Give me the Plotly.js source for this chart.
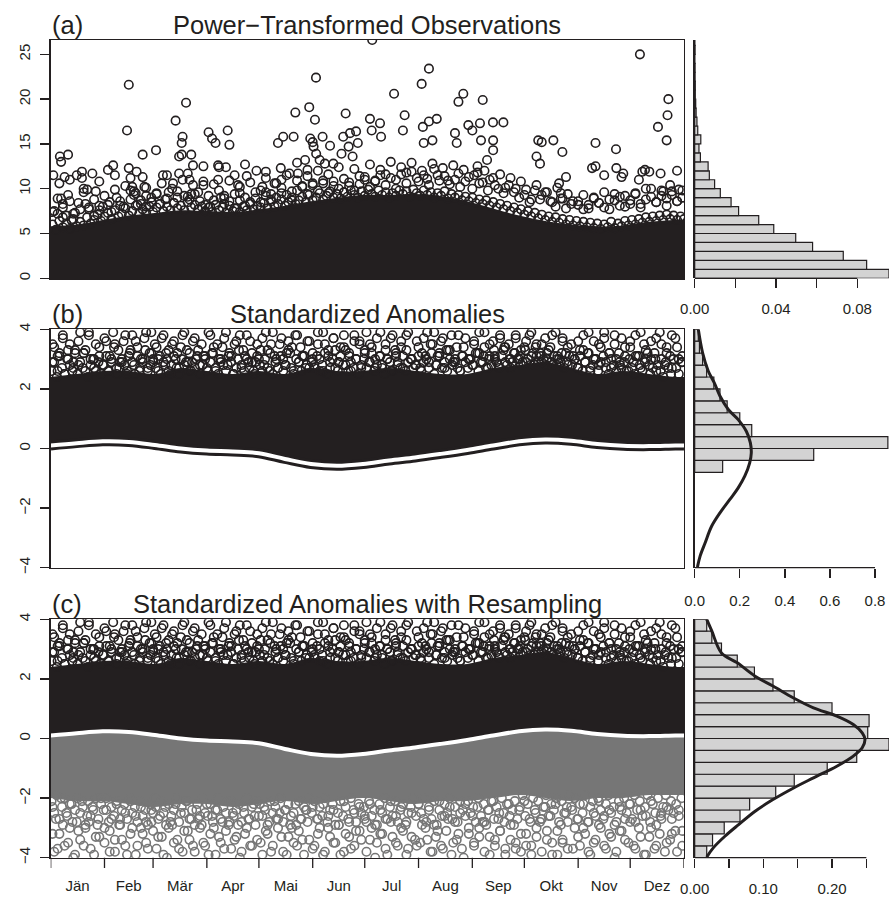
<!DOCTYPE html>
<html>
<head>
<meta charset="utf-8">
<script src="https://cdn.plot.ly/plotly-3.0.1.min.js"></script>
<style>html,body{margin:0;padding:0;background:#fff;}#chart{width:889px;height:898px;}</style>
</head>
<body>
<div id="chart"></div>
<script>
// ---------------- data ----------------
const months = ['Jän','Feb','Mär','Apr','Mai','Jun','Jul','Aug','Sep','Okt','Nov','Dez'];
const monthStart = [0,31,59,90,120,151,181,212,243,273,304,334,365];

// day grid used for curves / envelopes
const gridDays = [0,15,30,45,60,75,90,105,120,135,150,165,180,195,210,225,240,255,270,285,300,315,330,345,360,365];
// (a) top of solid black mass
const aEnvelope = [5.8,6.0,6.5,7.0,7.3,7.6,7.5,7.4,7.7,8.1,8.6,9.0,9.3,9.3,9.4,9.2,8.6,7.8,7.0,6.4,6.0,5.8,5.9,6.3,6.5,6.5];
// (b),(c) threshold (white curve)
const threshold = [0.10,0.18,0.24,0.22,0.12,0.00,-0.07,-0.10,-0.16,-0.35,-0.52,-0.58,-0.52,-0.40,-0.30,-0.18,-0.05,0.10,0.24,0.30,0.26,0.15,0.09,0.08,0.10,0.10];
// (b),(c) top of solid black mass
const upperEnvelope = [2.4,2.5,2.6,2.6,2.5,2.7,2.6,2.5,2.6,2.5,2.7,2.6,2.6,2.7,2.6,2.5,2.5,2.7,2.8,2.9,2.7,2.5,2.6,2.5,2.4,2.4];
// (c) bottom of solid grey mass
const lowerEnvelope = [-2.0,-2.1,-2.1,-2.2,-2.3,-2.2,-2.2,-2.3,-2.2,-2.1,-2.2,-2.1,-2.0,-2.1,-2.2,-2.1,-2.1,-2.0,-1.9,-2.0,-2.1,-2.0,-2.0,-1.9,-1.9,-1.9];

// (a) individual observations visible above the solid mass [day, value]
const obsPoints = [
[1.5,11.5],[5.3,13.6],[6,13.0],[10,13.8],[5,10.6],[8,11.3],[11,11],[15,11.5],[18,11.2],[6,8.9],[7,8.3],[11,8.6],[18,11.9],[24,11.7],[28,10.8],[19,10],[21,9.9],[26,9.7],
[33,12.1],[36,12.6],[37,11.5],[44,16.5],[45,21.6],[45,12.3],[46,11.2],[49.5,11.9],[47,10.2],[48,9.7],[53,11.3],[53,13.8],[54,10.2],[55,9.2],[60.7,14.3],[64.7,11.5],[67,11.5],[70.5,10.6],
[72,17.6],[74,11.7],[74,13.6],[75.5,13.8],[75.5,15.1],[76,15.8],[78,19.6],[81,13.8],[79,11.7],[82,12.6],[80,11],[81,9.4],[88,12.5],[88,10.4],[91,16.3],[93,15.6],[95,15.1],[96.5,12.6],
[96.5,11],[97,12.4],[101,12.4],[102,16.5],[103,14.9],[100,9.2],[106,11.5],[108,10.4],[109,9.5],[112,12.7],[113,11.4],[118.6,12],[124,11.9],[122,10.2],[124,9.6],[129,10.6],[131,15.1],
[134,15.8],[132.6,12.3],[133,11],[137.6,11.7],[140,15.8],[141,18.5],[142,12.9],[142.5,11.7],[146.6,13.2],[149,19.1],[149.6,15.6],[152.3,17.7],[152.9,22.4],[148,12.1],[151.5,14.7],
[151,15.2],[153,13.9],[156.7,15.8],[155,13.2],[158,12.8],[161,14.8],[162.9,12.8],[170,18.4],[168.6,15.8],[167.6,13.9],[172.5,16.2],[171.7,14.7],[174,13.6],[176,16.4],[177,15.1],
[185.3,26.6],[184,17.8],[185,16.5],[189.8,17.3],[190.4,15.8],[197.9,20.6],[204,18.2],[203,16.5],[213.8,21.7],[218,23.4],[214.5,16.9],[218,17.5],[222.5,17.8],[220,15.4],[215,15.1],
[235,19.7],[237.8,20.6],[233,16.2],[234,15.1],[240.7,17.1],[243,16.5],[247.4,17.3],[248,15.4],[249,19.9],[254.9,17.4],[260.9,17.4],[255,15.4],[255,14.3],[251.5,13.2],[246,12.5],
[281,15.4],[283,15.2],[289.7,15.4],[294.9,14.1],[282,12.8],[280,13.6],[293,10.6],[297,11.3],[294,9.5],[314,15.1],[314,12.5],[312,12.3],[325.8,14.4],[326,12.3],[330,11.7],[329,11.3],
[319,11.5],[339.6,25],[341,11.9],[342.5,12.1],[339,11],[345,11.9],[350,16.9],[351.5,11.7],[356,20],[355.5,18.2],[355,15.4],[361,12],[362,9.9],[357,10.4],[353,9.7],
[2,7.5],[4,7.2],[7,6.8],[9,7.0],[12,6.5],[14,7.3],[17,7.7],[20,8.3],[22,7.9],[25,7.0],[28,7.6],[30,8.0],
[33,8.2],[35,7.4],[38,9.0],[40,8.6],[42,8.0],[46,9.8],[48,9.3],[50,8.2],[52,8.7],[55,8.0],[58,8.5],
[61,9.5],[63,8.3],[66,8.8],[68,9.6],[71,8.4],[73,9.0],[77,9.2],[80,8.8],[83,9.4],[86,8.6],[89,8.2],
[92,8.0],[94,8.7],[98,9.0],[100,8.3],[103,8.6],[106,7.8],[109,8.7],[112,8.1],[115,8.5],[118,8.9],
[121,8.5],[124,9.2],[127,8.8],[130,9.0],[133,9.5],[136,9.3],[139,8.7],[142,9.8],[145,10.2],[148,9.4],
[151,10.4],[154,9.8],[157,10.6],[160,9.5],[163,10.8],[166,10.0],[169,9.6],[172,10.3],[175,9.8],[178,10.5],
[181,11.0],[184,10.2],[187,10.8],[190,11.5],[193,10.4],[196,11.2],[199,10.0],[202,11.6],[205,10.6],[208,11.9],
[212,10.8],[215,11.5],[218,10.4],[221,12.2],[224,10.9],[227,11.4],[230,10.5],[233,11.0],[236,10.2],[239,10.8],
[243,10.0],[246,11.8],[249,10.7],[252,9.8],[255,11.2],[258,10.0],[261,9.5],[264,10.4],[267,9.6],[270,9.0],
[273,9.3],[276,8.5],[279,9.8],[282,8.8],[285,9.6],[288,8.6],[291,8.0],[294,8.9],[297,7.8],[300,8.3],
[304,8.6],[307,7.7],[310,8.2],[313,9.0],[316,8.4],[319,7.9],[322,8.8],[325,9.4],[328,8.1],[331,9.2],
[334,8.7],[337,9.5],[340,8.3],[343,10.0],[346,9.1],[349,8.5],[352,9.8],[355,8.9],[358,9.3],[361,8.6],[364,9.8],
[1,6.0],[3,5.4],[5,6.4],[7,5.7],[9,6.1],[11,5.5],[13,6.6],[15,5.8],[17,6.3],[19,5.9],[21,6.8],[23,6.1],[25,6.5],[27,7.1],[29,6.4],[31,6.9],[33,7.3],[35,6.6],[37,7.6],[39,6.9],
[41,7.2],[43,7.8],[45,7.0],[47,7.5],[49,8.1],[51,7.2],[53,7.7],[55,7.3],[57,8.0],[59,7.4],[61,7.9],[63,8.3],[65,7.5],[67,8.0],[69,7.6],[71,8.4],[73,7.8],[75,8.1],[77,7.6],[79,8.5],
[81,7.9],[83,8.2],[85,7.7],[87,8.0],[89,7.5],[91,7.9],[93,7.4],[95,8.2],[97,7.6],[99,7.9],[101,7.3],[103,8.1],[105,7.5],[107,7.8],[109,7.4],[111,8.0],[113,7.6],[115,8.3],[117,7.7],[119,8.1],
[121,7.9],[123,8.4],[125,7.8],[127,8.6],[129,8.0],[131,8.3],[133,8.8],[135,8.1],[137,8.5],[139,9.0],[141,8.3],[143,8.7],[145,9.1],[147,8.5],[149,9.3],[151,8.7],[153,9.0],[155,9.5],[157,8.8],[159,9.2],
[161,9.7],[163,9.0],[165,9.4],[167,8.9],[169,9.6],[171,9.1],[173,9.8],[175,9.3],[177,9.0],[179,9.7],[181,9.2],[183,9.9],[185,9.4],[187,9.1],[189,9.8],[191,9.3],[193,9.6],[195,9.0],[197,9.5],[199,9.2],
[201,9.8],[203,9.4],[205,9.7],[207,9.1],[209,9.9],[211,9.5],[213,9.2],[215,9.8],[217,9.3],[219,9.6],[221,9.0],[223,9.5],[225,9.2],[227,9.7],[229,8.9],[231,9.4],[233,9.0],[235,9.3],[237,8.7],[239,9.1],
[241,8.6],[243,9.0],[245,8.4],[247,8.8],[249,8.3],[251,8.7],[253,8.1],[255,8.5],[257,7.9],[259,8.3],[261,7.7],[263,8.1],[265,7.5],[267,7.9],[269,7.3],[271,7.7],[273,7.1],[275,7.5],[277,6.9],[279,7.3],
[281,6.7],[283,7.1],[285,6.5],[287,6.9],[289,6.3],[291,6.8],[293,6.2],[295,6.6],[297,6.0],[299,6.5],[301,5.9],[303,6.4],[305,5.8],[307,6.3],[309,5.7],[311,6.2],[313,5.6],[315,6.1],[317,5.5],[319,6.0],
[321,5.7],[323,6.3],[325,5.6],[327,6.1],[329,5.8],[331,6.4],[333,5.9],[335,6.5],[337,6.0],[339,6.6],[341,6.2],[343,6.8],[345,6.3],[347,6.9],[349,6.4],[351,7.0],[353,6.5],[355,7.1],[357,6.6],[359,7.0],
[361,6.5],[363,6.9],[365,6.6]
];

// (b),(c) standardized anomalies above the solid mass [day, value]
const anomPoints = [
[1,2.9],[2,3.4],[4,2.6],[5,3.2],[7,3.7],[8,2.5],[10,3.0],[11,3.5],[13,2.7],[14,3.3],[16,2.8],[17,3.9],[19,3.2],[20,2.6],[22,3.8],[23,3.0],[25,2.7],[26,3.5],[28,3.1],[30,2.8],
[32,3.6],[33,2.6],[35,3.0],[36,3.9],[38,2.7],[39,3.3],[41,2.9],[42,3.6],[44,2.5],[45,3.1],[47,3.8],[48,2.8],[50,3.4],[51,2.6],[53,3.0],[54,3.7],[56,2.7],[57,3.2],[58,3.9],[59,2.9],
[60,3.5],[62,2.6],[63,3.1],[65,3.8],[66,2.8],[68,3.3],[69,2.5],[71,3.6],[72,3.0],[74,2.7],[75,3.4],[77,3.9],[78,2.9],[80,3.2],[81,2.6],[83,3.7],[84,3.0],[86,2.8],[87,3.5],[89,3.1],
[90,2.7],[92,3.8],[93,3.2],[95,2.6],[96,3.5],[98,2.9],[99,3.4],[101,3.9],[102,2.8],[104,3.1],[105,2.5],[107,3.6],[108,3.0],[110,2.7],[111,3.3],[113,3.8],[114,2.9],[116,3.2],[117,2.6],[119,3.5],
[120,3.0],[122,3.7],[123,2.8],[125,3.3],[126,2.6],[128,3.9],[129,3.1],[131,2.7],[132,3.5],[134,3.0],[135,2.8],[137,3.6],[138,3.2],[140,2.6],[141,3.8],[143,2.9],[144,3.4],[146,3.1],[147,2.7],[149,3.6],
[151,3.2],[152,2.8],[154,3.9],[155,3.0],[157,2.6],[158,3.5],[160,3.1],[161,2.7],[163,3.7],[164,3.3],[166,2.9],[167,3.4],[169,3.8],[170,2.8],[172,3.2],[173,2.6],[175,3.6],[176,3.0],[178,3.5],[179,2.7],
[181,3.3],[182,3.9],[184,2.9],[185,3.4],[187,2.7],[188,3.7],[190,3.1],[191,2.8],[193,3.5],[194,3.0],[196,2.6],[197,3.8],[199,3.2],[200,2.9],[202,3.6],[203,2.7],[205,3.3],[206,3.9],[208,3.0],[210,2.8],
[212,3.4],[213,2.7],[215,3.7],[216,3.1],[218,2.9],[219,3.5],[221,3.9],[222,2.8],[224,3.2],[225,3.6],[227,2.7],[228,3.3],[230,3.0],[231,3.8],[233,2.9],[234,3.4],[236,2.6],[237,3.1],[239,3.7],[241,3.0],
[243,2.8],[244,3.5],[246,3.2],[247,3.9],[249,2.9],[250,3.4],[252,2.7],[253,3.1],[255,3.6],[256,3.0],[258,2.8],[259,3.8],[261,3.3],[262,2.9],[264,3.5],[265,2.7],[267,3.2],[268,3.7],[270,3.0],[271,2.8],
[273,3.4],[274,2.9],[276,3.8],[277,3.1],[279,2.8],[280,3.5],[282,3.2],[283,2.9],[285,3.7],[286,3.0],[288,3.4],[289,2.8],[291,3.9],[292,3.1],[294,2.9],[295,3.6],[297,3.2],[298,2.8],[300,3.5],[302,3.0],
[304,2.7],[305,3.3],[307,3.8],[308,2.9],[310,3.2],[311,2.6],[313,3.6],[314,3.0],[316,2.8],[317,3.4],[319,3.9],[320,2.9],[322,3.2],[323,2.7],[325,3.5],[326,3.0],[328,2.8],[329,3.7],[331,3.1],[333,2.6],
[334,3.4],[336,2.9],[337,3.8],[339,3.1],[340,2.7],[342,3.5],[343,3.0],[345,2.8],[346,3.6],[348,3.2],[349,2.6],[351,3.9],[352,3.0],[354,2.8],[355,3.4],[357,3.1],[358,2.7],[360,3.7],[362,3.0],[364,2.9]
];

// dense rows of circles along the edges of the solid masses (days shared by both rows)
const edgeDays = [
0.5,2,3.5,5,6.5,8,9.5,11,12.5,14,15.5,17,18.5,20,21.5,23,24.5,26,27.5,29,
30.5,32,33.5,35,36.5,38,39.5,41,42.5,44,45.5,47,48.5,50,51.5,53,54.5,56,57.5,59,
60.5,62,63.5,65,66.5,68,69.5,71,72.5,74,75.5,77,78.5,80,81.5,83,84.5,86,87.5,89,
90.5,92,93.5,95,96.5,98,99.5,101,102.5,104,105.5,107,108.5,110,111.5,113,114.5,116,117.5,119,
120.5,122,123.5,125,126.5,128,129.5,131,132.5,134,135.5,137,138.5,140,141.5,143,144.5,146,147.5,149,
150.5,152,153.5,155,156.5,158,159.5,161,162.5,164,165.5,167,168.5,170,171.5,173,174.5,176,177.5,179,
180.5,182,183.5,185,186.5,188,189.5,191,192.5,194,195.5,197,198.5,200,201.5,203,204.5,206,207.5,209,
210.5,212,213.5,215,216.5,218,219.5,221,222.5,224,225.5,227,228.5,230,231.5,233,234.5,236,237.5,239,
240.5,242,243.5,245,246.5,248,249.5,251,252.5,254,255.5,257,258.5,260,261.5,263,264.5,266,267.5,269,
270.5,272,273.5,275,276.5,278,279.5,281,282.5,284,285.5,287,288.5,290,291.5,293,294.5,296,297.5,299,
300.5,302,303.5,305,306.5,308,309.5,311,312.5,314,315.5,317,318.5,320,321.5,323,324.5,326,327.5,329,
330.5,332,333.5,335,336.5,338,339.5,341,342.5,344,345.5,347,348.5,350,351.5,353,354.5,356,357.5,359,
360.5,362,363.5
];
const upperEdgeVals = [
2.6,2.9,2.4,3.1,2.7,2.5,3.0,2.8,2.6,3.2,2.5,2.9,2.7,3.3,2.4,2.8,3.0,2.6,2.9,2.5,
2.8,3.1,2.6,2.9,3.4,2.5,2.7,3.0,2.8,2.6,3.2,2.9,2.5,3.1,2.7,2.9,3.3,2.6,2.8,3.0,
2.7,3.0,2.5,2.9,3.2,2.6,2.8,3.1,2.7,2.5,3.0,2.8,3.3,2.6,2.9,2.7,3.1,2.5,2.8,3.0,
2.6,2.9,3.2,2.7,2.5,3.0,2.8,2.6,3.1,2.9,2.5,2.7,3.3,2.8,2.6,3.0,2.7,2.9,2.5,3.1,
2.8,2.6,3.0,2.7,3.2,2.5,2.9,2.7,3.1,2.6,2.8,3.3,2.7,2.5,3.0,2.9,2.6,3.1,2.8,2.7,
2.9,2.7,3.1,2.6,2.8,3.2,2.5,2.9,3.0,2.7,2.6,3.1,2.8,3.3,2.6,2.9,2.7,3.0,2.5,2.8,
3.0,2.7,2.9,3.2,2.6,2.8,3.1,2.7,2.5,3.0,2.9,2.6,3.3,2.8,2.7,3.1,2.6,2.9,3.0,2.7,
2.8,3.1,2.6,2.9,3.0,2.7,3.2,2.5,2.8,3.1,2.7,2.9,2.6,3.3,2.8,3.0,2.7,2.6,3.1,2.9,
2.7,3.0,2.8,3.2,2.6,2.9,3.1,2.7,3.0,2.8,3.3,2.9,2.7,3.1,3.4,2.8,3.0,2.9,3.2,3.0,
3.1,2.9,3.3,3.0,2.8,3.2,3.4,2.9,3.1,3.0,2.8,3.3,2.9,3.1,2.8,3.0,3.2,2.7,2.9,3.1,
2.8,3.0,2.7,3.1,2.6,2.9,3.2,2.7,2.8,3.0,2.6,2.9,3.1,2.7,2.5,3.0,2.8,2.6,3.2,2.7,
2.9,2.6,3.0,2.7,2.5,3.1,2.8,2.6,2.9,3.2,2.5,2.7,3.0,2.8,2.6,2.4,2.9,2.7,2.5,3.0,
2.7,2.5,2.9
];
const greyEdgeVals = [
-2.1,-2.5,-1.9,-2.7,-2.3,-2.0,-2.6,-2.2,-2.8,-2.4,-2.0,-2.5,-2.3,-2.9,-2.1,-2.6,-2.4,-2.0,-2.7,-2.2,
-2.4,-2.0,-2.8,-2.3,-2.6,-2.1,-2.9,-2.4,-2.2,-2.7,-2.0,-2.5,-2.3,-2.8,-2.1,-2.6,-2.4,-2.9,-2.2,-2.5,
-2.3,-2.7,-2.1,-2.5,-2.9,-2.2,-2.6,-2.4,-2.0,-2.8,-2.3,-2.5,-2.1,-2.7,-2.4,-2.9,-2.2,-2.6,-2.0,-2.5,
-2.6,-2.2,-2.8,-2.4,-2.0,-2.7,-2.3,-2.5,-2.9,-2.1,-2.6,-2.4,-2.2,-2.8,-2.5,-2.0,-2.7,-2.3,-2.6,-2.1,
-2.2,-2.6,-2.4,-2.9,-2.1,-2.5,-2.3,-2.7,-2.0,-2.8,-2.4,-2.2,-2.6,-2.5,-2.9,-2.1,-2.7,-2.3,-2.4,-2.0,
-2.5,-2.1,-2.7,-2.3,-2.6,-2.0,-2.8,-2.4,-2.2,-2.9,-2.5,-2.1,-2.6,-2.3,-2.7,-2.0,-2.4,-2.8,-2.2,-2.5,
-2.3,-2.8,-2.1,-2.6,-2.4,-2.9,-2.2,-2.5,-2.0,-2.7,-2.3,-2.6,-2.1,-2.8,-2.4,-2.2,-2.9,-2.5,-2.3,-2.0,
-2.6,-2.2,-2.5,-2.0,-2.8,-2.3,-2.7,-2.1,-2.9,-2.4,-2.6,-2.2,-2.5,-2.0,-2.7,-2.3,-2.8,-2.1,-2.4,-2.6,
-2.1,-2.5,-2.3,-2.8,-2.0,-2.6,-2.2,-2.9,-2.4,-2.1,-2.7,-2.3,-2.5,-2.0,-2.8,-2.2,-2.6,-2.4,-2.1,-2.7,
-2.3,-1.9,-2.6,-2.2,-2.8,-2.0,-2.5,-2.1,-2.7,-2.3,-1.9,-2.6,-2.2,-2.4,-2.0,-2.8,-2.1,-2.5,-2.3,-1.9,
-2.4,-2.0,-2.7,-2.2,-2.5,-1.9,-2.8,-2.3,-2.1,-2.6,-2.0,-2.4,-2.7,-2.2,-1.9,-2.5,-2.3,-2.8,-2.1,-2.4,
-2.0,-2.5,-2.2,-2.7,-1.9,-2.4,-2.1,-2.6,-2.3,-1.9,-2.8,-2.2,-2.5,-2.0,-2.6,-2.3,-1.9,-2.4,-2.1,-2.5,
-2.2,-2.6,-2.0
];

// a further, sparser row of circles (days shared by three rows)
const deepDays = [1,4,7,10,13,16,19,22,25,28,31,34,37,40,43,46,49,52,55,58,61,64,67,70,73,76,79,82,85,88,91,94,97,100,103,106,109,112,115,118,
121,124,127,130,133,136,139,142,145,148,151,154,157,160,163,166,169,172,175,178,181,184,187,190,193,196,199,202,205,208,211,214,217,220,223,226,229,232,235,238,
241,244,247,250,253,256,259,262,265,268,271,274,277,280,283,286,289,292,295,298,301,304,307,310,313,316,319,322,325,328,331,334,337,340,343,346,349,352,355,358,361,364];
const aBandVals = [
7.4,8.9,7.9,9.3,7.2,8.4,9.6,7.7,8.8,8.1,9.2,
8.5,9.9,8.1,10.3,8.8,9.5,8.3,10.1,9.0,
9.4,10.6,8.9,10.0,9.7,11.0,9.1,10.4,9.6,10.8,
9.2,10.5,9.8,8.9,10.9,9.4,10.2,9.0,10.7,9.6,
9.8,11.2,9.4,10.6,10.1,11.5,9.7,10.9,10.3,11.4,
10.6,12.0,10.9,11.6,10.3,12.4,11.1,10.7,12.2,11.4,
11.3,12.7,10.9,12.1,11.6,13.0,11.0,12.4,11.8,12.9,11.2,
12.0,11.1,12.8,11.5,12.3,10.9,12.6,11.7,12.1,11.3,
11.5,10.6,12.0,11.0,10.4,11.6,10.1,11.2,10.0,10.8,
9.9,8.8,10.4,9.3,9.6,8.5,10.1,8.9,9.4,8.6,
8.2,9.3,7.8,8.9,8.4,9.6,7.7,8.7,9.1,8.0,
8.3,9.4,7.9,8.8,10.0,8.5,9.2,8.1,9.7,8.6,9.0
];
const upperDeepVals = [
3.5,3.1,3.8,3.3,2.9,3.6,3.2,3.9,3.0,3.4,3.7,3.1,3.5,2.9,3.8,3.3,3.6,3.0,3.9,3.2,
3.4,3.7,3.0,3.5,3.2,3.8,2.9,3.6,3.3,3.1,3.9,3.4,3.0,3.7,3.2,3.5,3.8,3.1,3.6,2.9,
3.3,3.9,3.5,3.0,3.7,3.2,3.4,3.8,3.1,3.6,3.0,3.5,3.9,3.3,3.7,2.9,3.4,3.1,3.8,3.6,
3.2,3.5,3.0,3.9,3.3,3.7,3.1,3.4,3.8,3.0,3.6,3.2,3.9,3.5,3.1,3.7,3.3,2.9,3.8,3.4,
3.0,3.6,3.2,3.9,3.5,3.1,3.7,3.4,3.0,3.8,3.3,3.6,3.9,3.1,3.5,3.2,3.8,3.0,3.7,3.4,
3.1,3.6,3.3,3.9,3.0,3.5,3.7,3.2,3.8,2.9,3.4,3.6,3.1,3.9,3.3,3.0,3.7,3.5,3.2,3.8,
3.4,3.1
];
const greyDeepVals = [
-3.2,-3.7,-2.9,-3.5,-4.0,-3.1,-3.6,-2.8,-3.9,-3.3,-3.0,-3.8,-3.4,-2.7,-3.6,-3.2,-3.9,-3.0,-3.5,-2.8,
-3.7,-3.3,-4.0,-2.9,-3.4,-3.8,-3.1,-3.6,-2.7,-3.5,-3.9,-3.0,-3.3,-3.7,-2.8,-3.4,-4.0,-3.2,-3.6,-2.9,
-3.5,-3.1,-3.8,-2.7,-3.3,-3.9,-3.0,-3.6,-3.4,-2.8,-3.7,-3.2,-3.9,-3.0,-3.5,-2.9,-3.8,-3.3,-3.6,-3.1,
-2.7,-3.4,-4.0,-3.2,-3.7,-2.8,-3.5,-3.0,-3.9,-3.3,-3.6,-2.9,-3.4,-3.8,-3.1,-3.7,-2.7,-3.5,-3.2,-4.0,
-3.0,-3.6,-3.3,-2.8,-3.9,-3.4,-3.1,-3.7,-2.9,-3.5,-3.8,-3.2,-3.6,-3.0,-2.7,-3.4,-3.9,-3.1,-3.5,-2.8,
-3.7,-3.3,-3.0,-3.8,-3.5,-2.9,-3.6,-3.2,-4.0,-3.1,-3.4,-2.8,-3.7,-3.3,-3.9,-3.0,-3.6,-2.7,-3.5,-3.2,
-3.8,-3.1
];

// (c) resampled values below the threshold [day, value]
const resampPoints = [
[1,-2.3],[2,-3.8],[3,-2.7],[5,-3.2],[6,-2.0],[8,-3.6],[9,-2.5],[11,-3.0],[12,-2.2],[14,-3.9],[15,-2.8],[17,-3.4],[18,-2.1],[20,-3.0],[21,-2.6],[23,-3.7],[24,-2.3],[26,-3.3],[27,-2.9],[29,-2.0],
[31,-3.5],[32,-2.4],[34,-3.1],[35,-2.7],[37,-3.8],[38,-2.2],[40,-2.9],[41,-3.4],[43,-2.5],[44,-3.9],[46,-2.1],[47,-3.0],[49,-2.6],[50,-3.6],[52,-2.3],[53,-3.2],[55,-2.8],[56,-3.7],[58,-2.4],[59,-3.1],
[60,-2.0],[62,-3.3],[63,-2.6],[65,-3.9],[66,-2.3],[68,-3.0],[69,-2.8],[71,-3.5],[72,-2.2],[74,-3.7],[75,-2.5],[77,-3.1],[78,-2.1],[80,-3.4],[81,-2.7],[83,-3.8],[84,-2.4],[86,-3.0],[87,-2.9],[89,-3.6],
[90,-2.2],[92,-3.2],[93,-2.6],[95,-3.9],[96,-2.4],[98,-3.5],[99,-2.8],[101,-3.1],[102,-2.1],[104,-3.7],[105,-2.5],[107,-3.3],[108,-2.9],[110,-3.8],[111,-2.3],[113,-3.0],[114,-2.7],[116,-3.6],[117,-2.2],[119,-3.4],
[120,-2.6],[122,-3.9],[123,-2.3],[125,-3.2],[126,-2.8],[128,-3.6],[129,-2.1],[131,-3.0],[132,-2.5],[134,-3.8],[135,-2.4],[137,-3.3],[138,-2.9],[140,-3.5],[141,-2.2],[143,-3.1],[144,-2.7],[146,-3.9],[147,-2.4],[149,-3.4],
[151,-2.3],[152,-3.6],[154,-2.7],[155,-3.0],[157,-2.2],[158,-3.8],[160,-2.6],[161,-3.3],[163,-2.4],[164,-3.5],[166,-2.9],[167,-3.9],[169,-2.1],[170,-3.2],[172,-2.8],[173,-3.7],[175,-2.5],[176,-3.1],[178,-2.3],[179,-3.4],
[181,-2.6],[182,-3.8],[184,-2.2],[185,-3.0],[187,-2.9],[188,-3.5],[190,-2.4],[191,-3.2],[193,-2.7],[194,-3.9],[196,-2.1],[197,-3.3],[199,-2.6],[200,-3.6],[202,-2.3],[203,-3.1],[205,-2.8],[206,-3.7],[208,-2.5],[210,-3.4],
[212,-2.2],[213,-3.5],[215,-2.7],[216,-3.0],[218,-2.4],[219,-3.8],[221,-2.9],[222,-3.3],[224,-2.1],[225,-3.6],[227,-2.6],[228,-3.1],[230,-2.3],[231,-3.9],[233,-2.8],[234,-3.4],[236,-2.5],[237,-3.7],[239,-2.2],[241,-3.2],
[243,-2.6],[244,-3.5],[246,-2.3],[247,-3.0],[249,-2.8],[250,-3.8],[252,-2.4],[253,-3.3],[255,-2.1],[256,-3.6],[258,-2.7],[259,-3.1],[261,-2.5],[262,-3.9],[264,-2.2],[265,-3.4],[267,-2.9],[268,-3.7],[270,-2.4],[271,-3.2],
[273,-2.1],[274,-3.6],[276,-2.7],[277,-3.9],[279,-2.4],[280,-3.3],[282,-2.8],[283,-3.8],[285,-2.3],[286,-3.1],[288,-2.6],[289,-3.5],[291,-2.2],[292,-3.9],[294,-2.9],[295,-3.4],[297,-2.5],[298,-3.7],[300,-2.3],[302,-3.0],
[304,-2.7],[305,-3.6],[307,-2.2],[308,-3.2],[310,-2.8],[311,-3.9],[313,-2.5],[314,-3.4],[316,-2.1],[317,-3.0],[319,-2.6],[320,-3.7],[322,-2.4],[323,-3.3],[325,-2.9],[326,-3.8],[328,-2.3],[329,-3.1],[331,-2.7],[333,-3.5],
[334,-2.2],[336,-3.6],[337,-2.8],[339,-3.0],[340,-2.4],[342,-3.9],[343,-2.6],[345,-3.3],[346,-2.1],[348,-3.7],[349,-2.9],[351,-3.2],[352,-2.5],[354,-3.8],[355,-2.3],[357,-3.4],[358,-2.7],[360,-3.1],[362,-2.4],[364,-3.6]
];

// histograms: bin lower edges and densities
const histABinStart = [0,1,2,3,4,5,6,7,8,9,10,11,12,13,14,15,16,17,18,19,20,21,22,23,24,25,26];
const histADensity = [0.0956,0.0846,0.0731,0.0580,0.0497,0.0389,0.0315,0.0216,0.0179,0.0126,0.0098,0.0072,0.0066,0.0028,0.0021,0.0030,0.0015,0.0011,0.0007,0.0005,0.0003,0.0003,0.0002,0.0002,0.0001,0.0002,0.0001];
const histBBinStart = [-0.8,-0.4,0.0,0.4,0.8,1.2,1.6,2.0,2.4,2.8,3.2,3.6];
const histBDensity = [0.124,0.528,0.857,0.253,0.200,0.144,0.112,0.085,0.053,0.035,0.021,0.016];
const histCBinStart = [-4.0,-3.6,-3.2,-2.8,-2.4,-2.0,-1.6,-1.2,-0.8,-0.4,0.0,0.4,0.8,1.2,1.6,2.0,2.4,2.8,3.2,3.6];
const histCDensity = [0.0175,0.026,0.043,0.066,0.080,0.118,0.145,0.193,0.236,0.283,0.252,0.254,0.200,0.145,0.114,0.087,0.062,0.039,0.025,0.0175];

// fitted density curves [value, density]
const curveBValue = [-3.98,-3.61,-3.17,-2.61,-2.16,-1.71,-1.32,-0.93,-0.48,-0.15,0.19,0.58,0.97,1.31,1.76,2.2,2.6,3.21,4.0];
const curveBDensity = [0.012,0.024,0.046,0.075,0.112,0.156,0.193,0.222,0.244,0.251,0.247,0.229,0.193,0.149,0.112,0.087,0.060,0.035,0.016];
const curveCValue = [-3.98,-3.67,-3.28,-2.89,-2.44,-2.05,-1.66,-1.32,-0.93,-0.59,-0.31,-0.03,0.19,0.47,0.75,1.03,1.36,1.76,2.09,2.54,2.87,3.6,4.0];
const curveCDensity = [0.0175,0.027,0.044,0.064,0.088,0.114,0.144,0.173,0.207,0.231,0.244,0.248,0.244,0.231,0.207,0.173,0.144,0.114,0.088,0.062,0.039,0.025,0.0175];

// ---------------- build ----------------
const INK = '#231f20';
const GREY = '#767676';
const FONT = 'Liberation Sans, Arial, Helvetica, sans-serif';
const monthMid = months.map((m,i)=>(monthStart[i]+monthStart[i+1])/2);
const px = a => a.map(p=>p[0]);
const py = a => a.map(p=>p[1]);
const circ = (color) => ({symbol:'circle-open', size:8.5, color:color, line:{width:1.6, color:color}});
const mk = (x, y, xa, ya, color) => ({type:'scatter', mode:'markers', x:x, y:y, xaxis:xa, yaxis:ya, marker:circ(color), hoverinfo:'skip', showlegend:false});
const ln = (x, y, xa, ya, extra) => Object.assign({type:'scatter', mode:'lines', x:x, y:y, xaxis:xa, yaxis:ya, hoverinfo:'skip', showlegend:false}, extra);

const traces = [];
// (a)
traces.push(ln(gridDays, aEnvelope, 'x', 'y', {fill:'tozeroy', fillcolor:INK, line:{width:0, color:INK, shape:'spline'}}));
traces.push(mk(px(obsPoints), py(obsPoints), 'x', 'y', INK));
traces.push(mk(deepDays, aBandVals, 'x', 'y', INK));
// (b)
traces.push(ln(gridDays, threshold, 'x2', 'y2', {line:{width:0, shape:'spline'}}));
traces.push(ln(gridDays, upperEnvelope, 'x2', 'y2', {fill:'tonexty', fillcolor:INK, line:{width:0, color:INK, shape:'spline'}}));
traces.push(mk(edgeDays, upperEdgeVals, 'x2', 'y2', INK));
traces.push(mk(px(anomPoints), py(anomPoints), 'x2', 'y2', INK));
traces.push(mk(deepDays, upperDeepVals, 'x2', 'y2', INK));
traces.push(ln(gridDays, threshold, 'x2', 'y2', {line:{width:10, color:INK, shape:'spline'}}));
traces.push(ln(gridDays, threshold, 'x2', 'y2', {line:{width:4, color:'#ffffff', shape:'spline'}}));
// (c)
traces.push(ln(gridDays, threshold, 'x3', 'y3', {line:{width:0, shape:'spline'}}));
traces.push(ln(gridDays, lowerEnvelope, 'x3', 'y3', {fill:'tonexty', fillcolor:GREY, line:{width:0, color:GREY, shape:'spline'}}));
traces.push(ln(gridDays, threshold, 'x3', 'y3', {line:{width:0, shape:'spline'}}));
traces.push(ln(gridDays, upperEnvelope, 'x3', 'y3', {fill:'tonexty', fillcolor:INK, line:{width:0, color:INK, shape:'spline'}}));
traces.push(mk(px(resampPoints), py(resampPoints), 'x3', 'y3', GREY));
traces.push(mk(edgeDays, greyEdgeVals, 'x3', 'y3', GREY));
traces.push(mk(deepDays, greyDeepVals, 'x3', 'y3', GREY));
traces.push(mk(edgeDays, upperEdgeVals, 'x3', 'y3', INK));
traces.push(mk(px(anomPoints), py(anomPoints), 'x3', 'y3', INK));
traces.push(mk(deepDays, upperDeepVals, 'x3', 'y3', INK));
traces.push(ln(gridDays, threshold, 'x3', 'y3', {line:{width:4, color:'#ffffff', shape:'spline'}}));

// histograms
const histTrace = (starts, dens, w, xa, ya) => ({type:'bar', orientation:'h', y:starts.map(s=>s+w/2), x:dens, width:w, xaxis:xa, yaxis:ya,
  marker:{color:'#d3d3d3', line:{color:INK, width:1.2}}, hoverinfo:'skip', showlegend:false});
traces.push(histTrace(histABinStart, histADensity, 1, 'x4', 'y4'));
traces.push(histTrace(histBBinStart, histBDensity, 0.4, 'x5', 'y5'));
traces.push(histTrace(histCBinStart, histCDensity, 0.4, 'x6', 'y6'));
traces.push(ln(curveBDensity, curveBValue, 'x5', 'y5', {line:{color:INK, width:3, shape:'spline'}}));
traces.push(ln(curveCDensity, curveCValue, 'x6', 'y6', {line:{color:INK, width:3, shape:'spline'}}));

// ---------------- layout ----------------
const W = 889, H = 898;
const fx = p => p / W;
const fy = p => 1 - p / H;
const scX = [fx(50.7), fx(684)];
const hX = [fx(694.7), 1];
const rowA = [fy(278.3), fy(40)];
const rowB = [fy(567.7), fy(329.3)];
const rowC = [fy(857.7), fy(619.3)];
const tickFont = {family:FONT, size:15, color:INK};

const boxX = (dom, anchor, extra) => Object.assign({domain:dom, anchor:anchor, range:[0,365], showline:true, mirror:true, linecolor:INK, linewidth:1.3,
  ticks:'', showticklabels:false, showgrid:false, zeroline:false, fixedrange:true}, extra||{});
const boxY = (dom, anchor, range, vals) => ({domain:dom, anchor:anchor, range:range, showline:true, mirror:true, linecolor:INK, linewidth:1.3,
  tickvals:vals, ticks:'outside', ticklen:9, tickwidth:1.3, tickcolor:INK, tickangle:-90, tickfont:tickFont, ticklabelstandoff:4,
  showgrid:false, zeroline:false, fixedrange:true});
const histX = (dom, anchor, range, vals, text, standoff) => ({domain:dom, anchor:anchor, range:range, showline:false, tickvals:vals, ticktext:text,
  ticks:'outside', ticklen:9, tickwidth:1.3, tickcolor:INK, tickfont:tickFont, ticklabelstandoff:standoff, showgrid:false, zeroline:false, fixedrange:true});
const histY = (dom, anchor, range) => ({domain:dom, anchor:anchor, range:range, showline:true, linecolor:INK, linewidth:1.3, ticks:'',
  showticklabels:false, showgrid:false, zeroline:false, fixedrange:true});

// month-start tick marks below panel (c)
const monthTicks = monthStart.map(d => ({type:'line', xref:'x3', yref:'paper', x0:d, x1:d, y0:fy(857.7), y1:fy(868), line:{color:INK, width:1.3}}));
const titleFont = {family:FONT, size:25.5, color:INK};
const ann = (text, xp, yp, anchor) => ({text:text, xref:'paper', yref:'paper', x:fx(xp), y:fy(yp), xanchor:anchor, yanchor:'middle', showarrow:false, font:titleFont});

const layout = {
  width:W, height:H, margin:{l:0,r:0,t:0,b:0}, paper_bgcolor:'#fff', plot_bgcolor:'#fff',
  showlegend:false, bargap:0, font:{family:FONT, color:INK},
  xaxis: boxX(scX, 'y'),
  yaxis: boxY(rowA, 'x', [0,26.6], [0,5,10,15,20,25]),
  xaxis2: boxX(scX, 'y2'),
  yaxis2: boxY(rowB, 'x2', [-4,4], [-4,-2,0,2,4]),
  xaxis3: boxX(scX, 'y3', {tickvals:monthMid, ticktext:months, showticklabels:true, tickfont:tickFont, ticklabelstandoff:14}),
  yaxis3: boxY(rowC, 'x3', [-4,4], [-4,-2,0,2,4]),
  xaxis4: histX(hX, 'y4', [0,0.0956], [0,0.02,0.04,0.06,0.08], ['0.00','','0.04','','0.08'], 8),
  yaxis4: histY(rowA, 'x4', [0,26.6]),
  xaxis5: histX(hX, 'y5', [0,0.862], [0,0.2,0.4,0.6,0.8], ['0.0','0.2','0.4','0.6','0.8'], 10),
  yaxis5: histY(rowB, 'x5', [-4,4]),
  xaxis6: histX(hX, 'y6', [0,0.283], [0,0.05,0.10,0.15,0.20,0.25], ['0.00','','0.10','','0.20',''], 8),
  yaxis6: histY(rowC, 'x6', [-4,4]),
  shapes: [
    {type:'line', xref:'x4', yref:'y4 domain', x0:0, x1:0.08, y0:0, y1:0, line:{color:INK, width:1.3}},
    {type:'line', xref:'x5', yref:'y5 domain', x0:0, x1:0.8, y0:0, y1:0, line:{color:INK, width:1.3}},
    {type:'line', xref:'x6', yref:'y6 domain', x0:0, x1:0.25, y0:0, y1:0, line:{color:INK, width:1.3}}
  ].concat(monthTicks),
  annotations: [
    ann('(a)', 50, 25, 'left'),
    ann('Power\u2212Transformed Observations', 367, 25, 'center'),
    ann('(b)', 50, 314, 'left'),
    ann('Standardized Anomalies', 367, 314, 'center'),
    ann('(c)', 50, 604, 'left'),
    ann('Standardized Anomalies with Resampling', 367, 604, 'center')
  ]
};

Plotly.newPlot('chart', traces, layout, {staticPlot:true, displayModeBar:false});
</script>
</body>
</html>
